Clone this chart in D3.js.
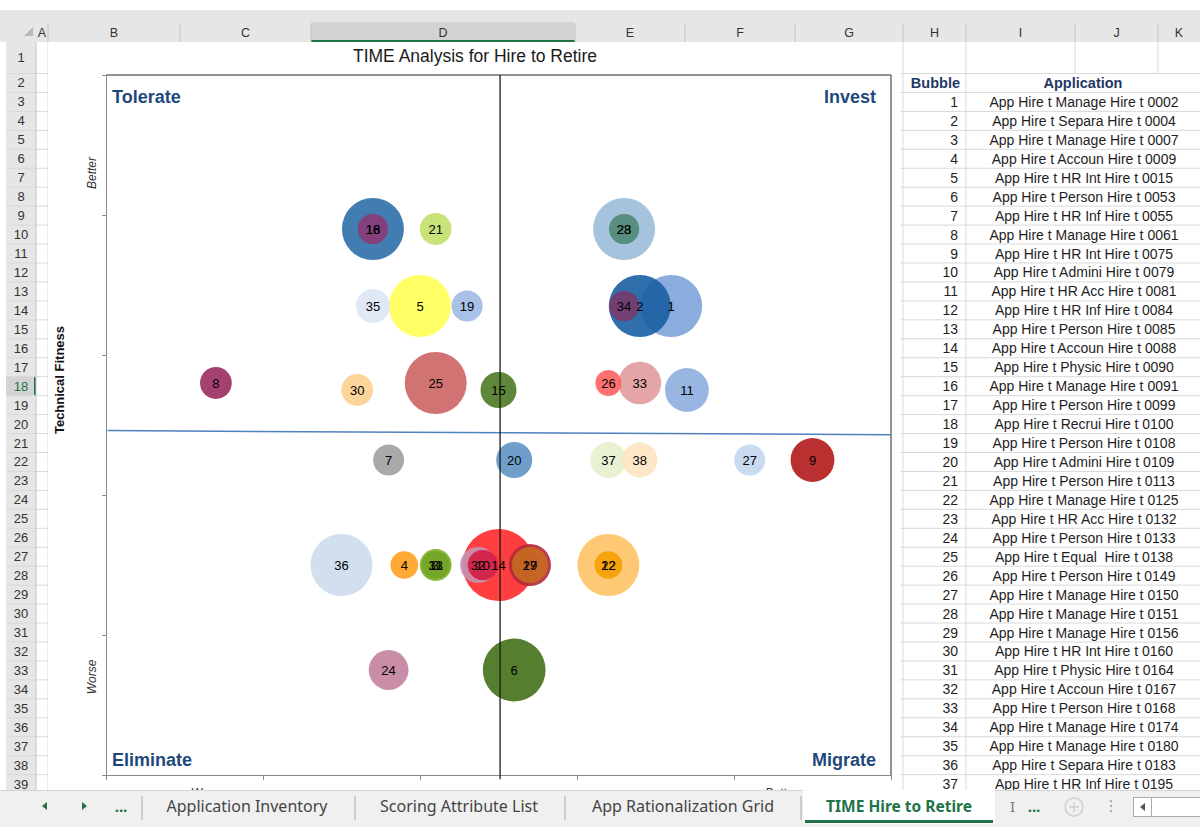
<!DOCTYPE html>
<html>
<head>
<meta charset="utf-8">
<script src="https://cdn.jsdelivr.net/npm/d3@7"></script>
<style>
  html, body { margin: 0; padding: 0; background: #fff; overflow: hidden; }
  svg { display: block; font-family: "Liberation Sans", Arial, sans-serif; }
  .pre { white-space: pre; }
</style>
</head>
<body>
<svg id="sheet" width="1200" height="827"></svg>
<script>
// ---- chart data ----
const bubbleIds   = [1,2,3,4,5,6,7,8,9,10,11,12,13,14,15,16,17,18,19,20,21,22,23,24,25,26,27,28,29,30,31,32,33,34,35,36,37,38];
const businessVal = [3.6,3.4,2.1,1.9,2.0,2.6,1.8,0.7,4.5,2.4,3.7,3.2,2.1,2.5,2.5,1.7,2.7,1.7,2.3,2.6,2.1,3.2,3.3,1.8,2.1,3.2,4.1,3.3,2.7,1.6,2.1,2.37,3.4,3.3,1.7,1.5,3.2,3.4];
const techFitness = [3.35,3.35,1.5,1.5,3.35,0.75,2.25,2.8,2.25,1.5,2.75,1.5,1.5,1.5,2.75,3.9,1.5,3.9,3.35,2.25,3.9,1.5,3.9,0.75,2.8,2.8,2.25,3.9,1.5,2.75,1.5,1.5,2.8,3.35,3.35,1.5,2.25,2.25];
const bubbleSize  = [4,4,1.05,0.8,4,4.1,1,1.05,2,0.95,2,0.8,0.8,5.4,1.35,4,1.35,0.95,1,1.35,1.05,4,0.95,1.65,4,0.7,1,4,1.85,1.05,1,1.35,1.9,0.95,1.2,4,1.35,1.3];
const bubbleColors = ["#7ea4da","#1a5ea3","#8cb83e","#ffa020","#ffff55","#437018","#a0a0a0","#9a2c62","#b21a1a","#d41c44",
                      "#8eaee0","#f5a000","#72a526","#ff2a2a","#4d7a25","#2e6fa9","#c86a22","#8b3a78","#a0bae3","#5f93c5",
                      "#c3df6c","#ffc266","#4f8874","#c4819f","#cd6464","#ff6262","#c4d6ee","#9bbcd9","#b3283a","#fdd08f",
                      "#86b432","#c892b2","#e09b9b","#7a3a6c","#dde6f5","#cddcec","#e6f1cd","#fde4c2"];
const axisTicks = [0,1,2,3,4,5];
const midLine   = [[2.51,5],[2.51,-0.03]];
const trendLine = [[0.01,2.46],[5,2.43]];
const quadrants = [
  {name:"Tolerate", qx:0, qy:5, anchor:"start"},
  {name:"Invest", qx:5, qy:5, anchor:"end"},
  {name:"Eliminate", qx:0, qy:0, anchor:"start"},
  {name:"Migrate", qx:5, qy:0, anchor:"end"}
];

// ---- sheet data ----
const colLetters = ["A","B","C","D","E","F","G","H","I","J","K"];
const colEdges = [36,48,180,311,575,685,795,903,966,1075,1158,1200];
const rowCount = 39;
const appNames = [
  "App Hire t Manage Hire t 0002","App Hire t Separa Hire t 0004","App Hire t Manage Hire t 0007","App Hire t Accoun Hire t 0009",
  "App Hire t HR Int Hire t 0015","App Hire t Person Hire t 0053","App Hire t HR Inf Hire t 0055","App Hire t Manage Hire t 0061",
  "App Hire t HR Int Hire t 0075","App Hire t Admini Hire t 0079","App Hire t HR Acc Hire t 0081","App Hire t HR Inf Hire t 0084",
  "App Hire t Person Hire t 0085","App Hire t Accoun Hire t 0088","App Hire t Physic Hire t 0090","App Hire t Manage Hire t 0091",
  "App Hire t Person Hire t 0099","App Hire t Recrui Hire t 0100","App Hire t Person Hire t 0108","App Hire t Admini Hire t 0109",
  "App Hire t Person Hire t 0113","App Hire t Manage Hire t 0125","App Hire t HR Acc Hire t 0132","App Hire t Person Hire t 0133",
  "App Hire t Equal  Hire t 0138","App Hire t Person Hire t 0149","App Hire t Manage Hire t 0150","App Hire t Manage Hire t 0151",
  "App Hire t Manage Hire t 0156","App Hire t HR Int Hire t 0160","App Hire t Physic Hire t 0164","App Hire t Accoun Hire t 0167",
  "App Hire t Person Hire t 0168","App Hire t Manage Hire t 0174","App Hire t Manage Hire t 0180","App Hire t Separa Hire t 0183",
  "App Hire t HR Inf Hire t 0195"
];
const sheetTabs = ["Application Inventory","Scoring Attribute List","App Rationalization Grid"];
const activeTab = "TIME Hire to Retire";

const svg = d3.select("#sheet");
const green = "#217346";

const rowTop = k => k === 1 ? 42 : 73.5 + (k - 2) * 18.95;
const rowBottom = k => 73.5 + (k - 1) * 18.95;
const rowMid = k => (rowTop(k) + rowBottom(k)) / 2;

// ---- grid ----
svg.append("rect").attr("width", 1200).attr("height", 827).attr("fill", "#fff");
svg.append("rect").attr("x", 0).attr("y", 10).attr("width", 1200).attr("height", 32).attr("fill", "#e6e6e6");
svg.append("rect").attr("x", colEdges[3]).attr("y", 22).attr("width", colEdges[4] - colEdges[3]).attr("height", 20).attr("fill", "#d3d3d3");
svg.append("rect").attr("x", colEdges[3]).attr("y", 40).attr("width", colEdges[4] - colEdges[3]).attr("height", 2).attr("fill", green);

svg.append("g").selectAll("line").data(colEdges.slice(1, -1)).join("line")
  .attr("x1", d => d).attr("x2", d => d).attr("y1", 24).attr("y2", 42)
  .attr("stroke", "#c4c4c4");
svg.append("g").selectAll("text").data(colLetters).join("text")
  .attr("x", (d, i) => (colEdges[i] + colEdges[i + 1]) / 2)
  .attr("y", 37).attr("text-anchor", "middle").attr("font-size", 12.5).attr("fill", "#333")
  .text(d => d);
svg.append("path").attr("d", "M24,36 L33,36 L33,27 Z").attr("fill", "#b8b8b8");

// row header
svg.append("rect").attr("x", 6).attr("y", 42).attr("width", 30).attr("height", 748).attr("fill", "#e6e6e6");
svg.append("rect").attr("x", 6).attr("y", rowTop(18)).attr("width", 30).attr("height", 18.95).attr("fill", "#d3d3d3");
svg.append("rect").attr("x", 34).attr("y", rowTop(18)).attr("width", 2).attr("height", 18.95).attr("fill", green);

const rows = d3.range(1, rowCount + 1);
svg.append("g").selectAll("line").data(rows).join("line")
  .attr("x1", 6).attr("x2", 1200).attr("y1", d => rowBottom(d)).attr("y2", d => rowBottom(d))
  .attr("stroke", "#d9d9d9");
svg.append("line").attr("x1", 36).attr("x2", 36).attr("y1", 42).attr("y2", 790).attr("stroke", "#c4c4c4");
svg.append("g").selectAll("line").data(colEdges.slice(1, -1)).join("line")
  .attr("x1", d => d).attr("x2", d => d).attr("y1", 42).attr("y2", rowBottom(1))
  .attr("stroke", "#d9d9d9");
svg.append("g").selectAll("line").data([48, 903, 966]).join("line")
  .attr("x1", d => d).attr("x2", d => d).attr("y1", rowBottom(1)).attr("y2", 790)
  .attr("stroke", "#d9d9d9");
svg.append("g").selectAll("text").data(rows).join("text")
  .attr("x", 21).attr("y", d => rowMid(d) + 4.5).attr("text-anchor", "middle")
  .attr("font-size", 13).attr("fill", d => d === 18 ? green : "#333")
  .text(d => d);

// ---- table ----
svg.append("text").attr("x", 960).attr("y", rowMid(2) + 5).attr("text-anchor", "end")
  .attr("font-size", 14.5).attr("font-weight", "bold").attr("fill", "#1f3864").text("Bubble");
svg.append("text").attr("x", 1083).attr("y", rowMid(2) + 5).attr("text-anchor", "middle")
  .attr("font-size", 14.5).attr("font-weight", "bold").attr("fill", "#1f3864").text("Application");
const tbl = svg.append("g").selectAll("g").data(appNames).join("g");
tbl.append("text").attr("x", 958).attr("y", (d, i) => rowMid(i + 3) + 5).attr("text-anchor", "end")
  .attr("font-size", 14).attr("fill", "#1e1e1e").text((d, i) => i + 1);
tbl.append("text").attr("class", "pre").attr("x", 1084).attr("y", (d, i) => rowMid(i + 3) + 5).attr("text-anchor", "middle")
  .attr("font-size", 14).attr("fill", "#1e1e1e").text(d => d);

// ---- chart object ----
svg.append("rect").attr("x", 48).attr("y", 42).attr("width", 852).attr("height", 748).attr("fill", "#fff");

const x = d3.scaleLinear().domain([0, 5]).range([106, 891]);
const y = d3.scaleLinear().domain([0, 5]).range([775, 75]);
const r = d3.scaleSqrt().domain([0, 4]).range([0, 31]);

svg.append("text").attr("x", 475).attr("y", 62).attr("text-anchor", "middle")
  .attr("font-size", 17.5).attr("fill", "#1a1a1a").text("TIME Analysis for Hire to Retire");

// plot frame (top / right)
svg.append("path")
  .attr("d", `M${x(0)},${y(5)}H${x(5)}V${y(0)}`)
  .attr("fill", "none").attr("stroke", "#262626");

const yAxis = svg.append("g").attr("transform", `translate(${x(0)},0)`)
  .call(d3.axisLeft(y).tickValues(axisTicks).tickSize(4).tickFormat(""));
const xAxis = svg.append("g").attr("transform", `translate(0,${y(0)})`)
  .call(d3.axisBottom(x).tickValues(axisTicks).tickSize(5).tickFormat(""));
[yAxis, xAxis].forEach(a => a.selectAll("path,line").attr("stroke", "#8a8a8a"));

// bubbles
const pts = bubbleIds.map((id, i) => ({id, bx: businessVal[i], ty: techFitness[i], s: bubbleSize[i], c: bubbleColors[i]}));
const order = pts.slice().sort((a, b) => b.s - a.s);
svg.append("g").selectAll("circle").data(order).join("circle")
  .attr("cx", d => x(d.bx)).attr("cy", d => y(d.ty)).attr("r", d => r(d.s))
  .attr("fill", d => d.c).attr("fill-opacity", 0.9);

// reference lines
const line = d3.line().x(d => x(d[0])).y(d => y(d[1]));
svg.append("path").datum(trendLine).attr("d", line).attr("fill", "none")
  .attr("stroke", "#4f81bd").attr("stroke-width", 1.5);
svg.append("path").datum(midLine).attr("d", line).attr("fill", "none")
  .attr("stroke", "#1a1a1a").attr("stroke-width", 1.3);

svg.append("g").selectAll("text").data(pts).join("text")
  .attr("x", d => x(d.bx)).attr("y", d => y(d.ty)).attr("dy", "0.36em")
  .attr("text-anchor", "middle").attr("font-size", 13).attr("fill", "#000")
  .text(d => d.id);

// quadrant labels
svg.append("g").selectAll("text").data(quadrants).join("text")
  .attr("x", d => x(d.qx) + (d.anchor === "start" ? 6 : -15))
  .attr("y", d => y(d.qy) + (d.qy === 5 ? 28 : -9))
  .attr("text-anchor", d => d.anchor)
  .attr("font-size", 18).attr("font-weight", "bold").attr("fill", "#1f497d")
  .text(d => d.name);

// axis titles
svg.append("text").attr("transform", "translate(64,380) rotate(-90)").attr("text-anchor", "middle")
  .attr("font-size", 13).attr("font-weight", "bold").attr("fill", "#111").text("Technical Fitness");
svg.append("text").attr("transform", `translate(96,${y(4.3)}) rotate(-90)`).attr("text-anchor", "middle")
  .attr("font-size", 12).attr("font-style", "italic").attr("fill", "#333").text("Better");
svg.append("text").attr("transform", `translate(96,${y(0.7)}) rotate(-90)`).attr("text-anchor", "middle")
  .attr("font-size", 12).attr("font-style", "italic").attr("fill", "#333").text("Worse");
svg.append("text").attr("x", x(0.65)).attr("y", 797).attr("text-anchor", "middle")
  .attr("font-size", 12).attr("font-style", "italic").attr("fill", "#333").text("Worse");
svg.append("text").attr("x", x(4.3)).attr("y", 797).attr("text-anchor", "middle")
  .attr("font-size", 12).attr("font-style", "italic").attr("fill", "#333").text("Better");

// ---- sheet tab bar ----
const bar = svg.append("g").attr("font-family", "'Noto Sans', 'Open Sans', sans-serif");
bar.append("rect").attr("x", 0).attr("y", 790).attr("width", 1200).attr("height", 37).attr("fill", "#f0f0f0");
bar.append("line").attr("x1", 0).attr("x2", 1200).attr("y1", 790.5).attr("y2", 790.5).attr("stroke", "#d4d4d4");
bar.append("path").attr("d", "M42,806 L47,802 L47,810 Z").attr("fill", green);
bar.append("path").attr("d", "M87,806 L82,802 L82,810 Z").attr("fill", green);
bar.append("text").attr("x", 121).attr("y", 812).attr("text-anchor", "middle").attr("font-size", 15)
  .attr("font-weight", "bold").attr("fill", green).text("...");

const tabCenters = [247, 459, 683];
const tabSeps = [142, 355, 565, 801];
bar.selectAll(".sep").data(tabSeps).join("line").attr("class", "sep")
  .attr("x1", d => d).attr("x2", d => d).attr("y1", 796).attr("y2", 820).attr("stroke", "#a6a6a6");
bar.selectAll(".tab").data(sheetTabs).join("text").attr("class", "tab")
  .attr("x", (d, i) => tabCenters[i]).attr("y", 812).attr("text-anchor", "middle")
  .attr("font-size", 16).attr("fill", "#444").text(d => d);

bar.append("rect").attr("x", 803).attr("y", 790).attr("width", 192).attr("height", 34).attr("fill", "#fff");
bar.append("rect").attr("x", 805).attr("y", 820).attr("width", 188).attr("height", 3).attr("fill", green);
bar.append("text").attr("x", 899).attr("y", 812).attr("text-anchor", "middle").attr("font-size", 15.5)
  .attr("font-weight", "bold").attr("fill", green).text(activeTab);

bar.append("text").attr("x", 1010).attr("y", 812).attr("font-size", 15).attr("fill", "#777").text("I");
bar.append("text").attr("x", 1034).attr("y", 812).attr("text-anchor", "middle").attr("font-size", 15)
  .attr("font-weight", "bold").attr("fill", green).text("...");
bar.append("circle").attr("cx", 1074).attr("cy", 807).attr("r", 9).attr("fill", "none").attr("stroke", "#cfcfcf").attr("stroke-width", 1.5);
bar.append("path").attr("d", "M1074,802V812M1069,807H1079").attr("stroke", "#cfcfcf").attr("stroke-width", 1.5);
bar.selectAll(".dot").data([801, 806, 811]).join("circle").attr("class", "dot")
  .attr("cx", 1111).attr("cy", d => d).attr("r", 1.2).attr("fill", "#b0b0b0");
bar.append("rect").attr("x", 1133.5).attr("y", 797.5).attr("width", 70).attr("height", 19).attr("fill", "#fff").attr("stroke", "#ababab");
bar.append("line").attr("x1", 1151.5).attr("x2", 1151.5).attr("y1", 798).attr("y2", 816).attr("stroke", "#ababab");
bar.append("path").attr("d", "M1140,807 L1145,803 L1145,811 Z").attr("fill", "#555");
</script>
</body>
</html>
